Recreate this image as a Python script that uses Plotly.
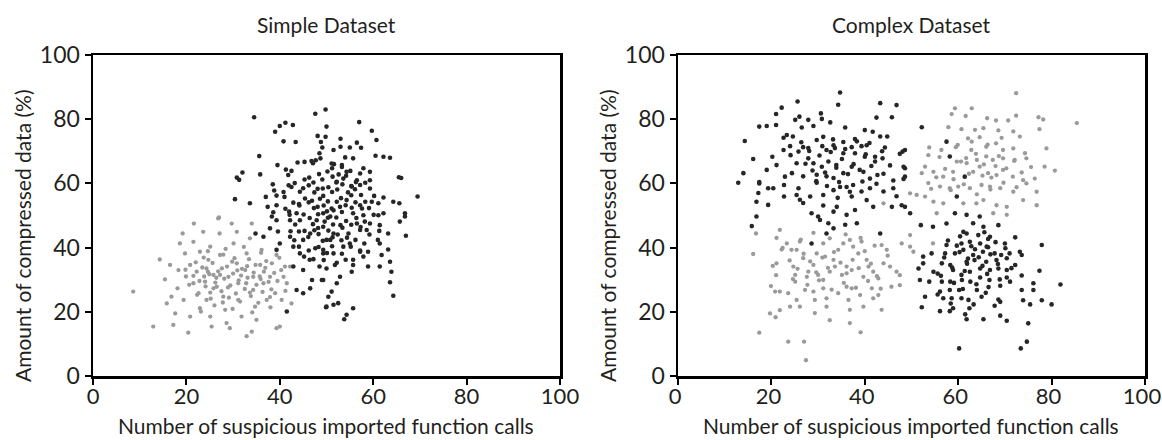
import plotly.graph_objects as go

# ---------------- data ----------------
x_ticks = [0, 20, 40, 60, 80, 100]
y_ticks = [0, 20, 40, 60, 80, 100]
titles = ["Simple Dataset", "Complex Dataset"]
x_label = "Number of suspicious imported function calls"
y_label = "Amount of compressed data (%)"

# Simple dataset - light grey cluster
simple_grey = [
    (8.6, 26.3), (12.9, 15.4), (14.3, 36.3), (15.4, 30.1), (15.8, 22.6), (16.5, 34.6), (16.8, 24.7),
    (17.6, 19.5), (17.2, 15.9), (18.1, 27.3), (18.3, 33.0), (18.6, 41.3), (19.2, 44.4), (19.7, 38.2),
    (19.9, 31.0), (19.4, 23.7), (20.4, 13.5), (20.8, 18.5), (21.6, 47.5), (21.5, 41.8), (20.8, 34.6),
    (21.5, 28.9), (22.2, 32.5), (22.9, 38.7), (22.6, 25.8), (22.9, 21.1), (23.6, 44.9), (24.0, 29.4),
    (24.7, 36.2), (25.1, 40.3), (24.3, 23.7), (25.1, 18.5), (25.4, 15.4), (25.8, 31.5), (26.5, 27.8),
    (26.8, 49.1), (27.1, 44.4), (27.2, 37.7), (27.6, 33.5), (27.9, 24.7), (28.3, 20.6), (28.6, 16.5),
    (29.3, 14.9), (29.0, 30.9), (29.7, 47.5), (30.1, 41.3), (30.8, 44.9), (30.8, 35.1), (31.1, 28.9),
    (31.1, 23.7), (31.8, 18.5), (32.9, 12.4), (32.6, 33.0), (32.9, 38.2), (34.0, 47.5), (33.6, 42.9),
    (34.3, 30.9), (34.3, 26.8), (34.7, 21.6), (34.0, 13.8), (35.0, 17.5), (35.8, 34.6), (36.1, 39.3),
    (36.5, 28.9), (37.2, 23.7), (37.9, 30.9), (38.3, 35.1), (39.0, 25.8), (39.3, 14.9), (40.0, 15.4),
    (40.4, 23.7), (40.8, 30.9), (41.5, 28.9), (42.2, 34.1), (42.5, 22.6), (41.1, 34.1), (39.3, 37.7),
    (24.3, 33.5), (24.6, 32.5), (27.0, 49.4),
    (21.5, 31.2), (22.8, 29.6), (23.4, 33.8), (24.1, 27.9), (24.9, 31.7), (25.6, 35.2), (26.2, 29.1),
    (26.8, 32.6), (27.5, 26.4), (28.1, 30.3), (28.7, 34.1), (29.4, 28.2), (30.0, 31.9), (30.6, 25.7),
    (31.2, 29.8), (31.9, 33.4), (32.5, 27.1), (33.1, 30.6), (33.8, 24.9), (34.4, 32.2), (35.0, 28.4),
    (35.7, 31.0), (36.3, 26.2), (36.9, 33.7), (37.6, 29.3), (38.2, 27.0), (38.8, 32.1), (22.3, 25.3),
    (23.7, 36.9), (25.2, 24.1), (27.9, 37.8), (29.8, 35.6), (31.5, 23.2), (33.4, 36.4), (35.4, 22.8),
    (37.1, 35.8), (39.5, 29.6), (40.3, 33.0), (41.2, 26.5), (20.6, 28.4), (19.8, 33.1), (24.6, 38.9),
    (28.4, 39.6), (32.3, 40.2), (36.0, 38.4), (26.0, 22.0), (29.9, 20.9), (34.1, 19.8), (38.0, 21.4),
    (23.1, 20.1), (30.9, 32.9), (27.2, 31.5), (32.8, 28.9), (25.8, 27.3), (35.9, 30.2), (29.1, 24.4),
    (34.8, 34.6), (22.0, 35.4), (37.9, 24.6), (39.9, 36.8), (26.4, 30.6), (28.9, 27.6), (31.7, 31.3),
    (33.6, 26.0), (30.3, 36.7), (27.8, 22.9), (23.8, 31.0), (36.6, 32.5), (25.1, 26.0), (33.0, 34.2),
]

# Simple dataset - dark cluster
simple_dark = [
    (34.5, 80.6), (41.2, 78.9), (40.0, 77.9), (42.8, 78.2), (39.0, 76.1), (40.8, 73.1), (43.4, 72.9),
    (47.6, 81.7), (49.8, 83.0), (50.0, 77.7), (48.1, 74.8), (49.8, 74.5), (48.8, 72.9), (49.1, 71.2),
    (35.6, 68.5), (48.5, 69.4), (48.7, 67.8), (39.5, 65.7), (43.8, 66.5), (45.3, 66.7), (46.8, 67.0),
    (47.7, 67.2), (32.0, 63.4), (30.8, 61.8), (31.3, 61.1), (35.8, 62.8), (41.3, 64.3), (42.5, 63.9),
    (41.8, 62.6), (38.5, 59.7), (41.9, 59.4), (42.5, 58.9), (38.8, 57.8), (40.8, 57.3), (45.0, 58.5),
    (46.2, 59.4), (30.4, 55.1), (33.6, 53.8), (37.0, 55.8), (39.3, 56.2), (41.0, 55.8), (42.9, 54.0),
    (44.1, 53.6), (45.4, 55.3), (46.9, 54.6), (37.4, 52.7), (39.3, 53.2), (38.6, 51.0), (38.3, 49.7),
    (42.0, 51.2), (43.6, 50.7), (48.1, 52.7), (49.3, 50.7),
    (57.0, 79.1), (59.7, 76.4), (60.7, 73.5), (53.0, 73.9), (56.5, 72.7), (57.4, 71.1), (55.0, 71.2),
    (53.0, 71.4), (51.5, 70.4), (60.5, 68.6), (62.2, 68.3), (63.6, 68.0), (55.7, 67.8), (54.0, 68.1),
    (51.6, 66.0), (53.3, 65.7), (51.2, 64.7), (54.3, 63.6), (57.9, 64.7), (59.3, 63.6), (65.5, 61.9),
    (66.0, 61.7), (59.3, 61.0), (56.5, 61.0), (53.6, 61.5), (52.2, 60.5), (55.4, 59.0), (57.2, 59.5),
    (59.3, 58.4), (69.5, 55.9), (62.2, 55.6), (59.7, 54.3), (61.1, 53.8), (64.3, 54.3), (65.6, 53.8),
    (57.2, 53.2), (54.3, 54.8), (52.9, 52.7), (55.7, 50.7), (57.9, 50.1), (61.1, 50.1), (62.2, 50.7),
    (66.8, 50.7), (66.8, 49.7), (51.5, 51.6), (50.8, 49.7),
    (65.7, 48.1), (67.0, 43.7), (63.2, 44.4), (61.4, 41.3), (61.0, 42.4), (63.2, 39.4), (61.8, 37.7),
    (63.6, 35.6), (63.9, 32.5), (63.6, 29.2), (64.3, 25.0), (61.4, 34.1), (58.9, 34.1), (57.9, 37.2),
    (58.9, 38.7), (57.2, 38.7), (55.7, 36.2), (55.7, 34.6), (55.4, 32.5), (52.9, 30.9), (52.2, 28.9),
    (51.1, 26.3), (50.4, 24.7), (49.9, 21.4), (51.5, 22.2), (52.5, 22.7), (55.7, 21.1), (54.3, 19.1),
    (53.8, 17.7), (49.3, 29.9), (50.0, 33.5), (51.8, 34.6), (53.6, 40.3), (55.0, 41.3), (57.2, 45.5),
    (58.6, 45.5), (51.5, 44.4), (53.0, 47.0), (54.7, 44.4), (56.5, 47.5), (59.3, 47.5), (61.4, 47.0),
    (50.0, 42.4), (49.3, 39.3), (51.5, 38.2),
    (34.8, 44.4), (36.5, 43.4), (37.9, 46.0), (39.6, 45.0), (40.0, 41.3), (39.3, 39.3), (42.2, 43.4),
    (42.9, 40.3), (44.1, 45.0), (45.0, 42.4), (46.5, 44.4), (47.6, 39.8), (44.3, 38.2), (46.4, 36.2),
    (42.9, 34.1), (45.0, 33.0), (46.9, 29.9), (49.0, 29.9), (43.6, 26.8), (46.5, 27.3), (45.0, 25.8),
    (41.5, 20.1), (50.0, 21.6), (49.3, 38.2), (48.5, 34.1), (49.3, 46.5), (47.9, 48.5), (50.8, 42.4),
    (42.2, 48.5), (39.3, 48.5), (44.3, 48.5),
    (46.3, 61.8), (47.2, 60.3), (48.4, 62.9), (49.1, 61.2), (50.2, 63.7), (51.3, 62.1), (52.6, 62.8),
    (53.4, 59.7), (54.2, 62.4), (55.1, 63.9), (56.3, 60.4), (47.4, 57.2), (48.1, 58.3), (49.3, 56.1),
    (50.4, 58.8), (51.2, 57.3), (52.3, 58.1), (53.1, 55.4), (54.6, 57.2), (55.3, 56.3), (56.1, 58.2),
    (57.4, 56.4), (46.2, 54.1), (47.3, 52.3), (48.6, 55.2), (49.4, 53.1), (50.3, 54.4), (51.1, 52.2),
    (52.2, 54.3), (53.3, 51.1), (54.1, 53.2), (55.4, 52.4), (56.2, 54.1), (57.6, 52.2), (58.3, 54.3),
    (46.4, 49.2), (47.1, 47.3), (48.2, 50.4), (49.6, 48.1), (50.3, 49.3), (51.4, 47.2), (52.1, 49.4),
    (53.4, 46.2), (54.2, 48.3), (55.3, 47.1), (56.4, 49.2), (57.3, 46.4), (58.2, 48.1), (45.3, 45.2),
    (46.1, 43.3), (47.4, 45.4), (48.3, 44.2), (49.2, 42.1), (50.4, 45.3), (51.3, 43.2), (52.4, 44.1),
    (53.2, 42.3), (54.4, 43.1), (56.2, 42.4), (44.1, 40.3), (46.2, 39.1), (48.3, 40.2), (50.1, 38.3),
    (51.2, 40.4), (53.3, 38.1), (55.2, 40.3), (49.4, 36.1), (52.2, 35.3), (47.2, 36.4), (54.1, 36.2),
    (45.1, 50.3), (44.2, 53.1), (43.3, 47.2), (42.1, 50.2), (41.2, 52.1), (44.3, 57.4), (43.2, 60.1),
    (45.3, 61.2), (59.1, 52.3), (60.2, 56.1), (58.3, 60.2), (57.2, 63.1), (55.3, 59.2), (50.1, 51.3),
    (48.2, 46.1), (52.1, 60.3), (49.2, 58.4), (53.3, 65.1), (51.1, 66.2), (47.1, 66.3), (60.1, 50.2),
    (59.2, 44.1), (61.3, 45.2), (58.1, 41.3), (57.2, 39.1), (45.2, 37.2), (43.1, 42.3), (42.3, 45.1),
]

# Complex dataset - dark cluster, upper left
complex_dark_a = [
    (34.7, 88.3), (34.3, 84.5), (25.6, 85.5), (22.2, 83.6), (21.0, 81.6), (21.0, 78.2), (19.0, 77.9),
    (17.4, 77.7), (25.1, 79.8), (26.0, 80.8), (27.9, 79.8), (30.6, 81.8), (30.8, 80.1), (32.6, 79.0),
    (29.0, 77.9), (26.5, 77.4), (35.8, 77.4), (43.3, 85.0), (46.8, 84.4), (42.5, 80.5), (45.8, 80.6),
    (40.0, 76.6), (41.7, 76.1), (43.3, 74.6), (44.8, 74.6), (37.9, 73.8), (22.6, 74.2), (23.3, 75.1),
    (24.6, 74.6), (14.3, 73.2), (16.1, 67.6), (14.0, 63.2), (12.9, 60.2), (17.4, 60.4), (19.0, 64.2),
    (21.1, 65.7), (22.6, 70.4), (24.0, 71.6), (25.8, 69.9), (26.8, 71.3), (27.9, 71.0), (29.7, 73.5),
    (31.1, 74.5), (33.3, 71.9), (35.4, 72.9), (33.6, 71.0), (31.8, 70.4), (35.4, 69.4), (37.2, 71.3),
    (39.3, 71.6), (40.4, 71.9), (37.9, 69.4), (40.0, 68.3), (42.2, 68.3), (43.8, 67.8), (44.3, 71.2),
    (47.5, 69.2), (48.1, 69.9), (48.6, 64.7), (27.9, 67.8), (29.0, 66.3), (30.8, 65.2), (32.2, 66.8),
    (33.9, 65.7), (25.4, 66.3), (24.4, 63.2), (26.8, 62.2), (29.7, 62.7), (31.8, 62.2), (33.3, 61.7),
    (35.4, 63.2), (37.2, 65.2), (39.7, 63.6), (41.1, 61.5), (42.2, 66.8), (44.0, 63.0), (46.1, 60.9),
    (48.3, 61.4), (17.4, 60.0), (19.3, 58.5), (20.4, 58.5), (22.7, 59.5), (25.8, 58.5), (17.2, 57.0),
    (22.7, 55.9), (25.4, 56.4), (26.8, 53.9), (26.1, 54.9), (28.3, 55.9), (29.7, 60.2), (31.1, 56.4),
    (33.3, 57.9), (34.7, 58.9), (36.1, 58.9), (37.5, 59.5), (37.2, 55.9), (39.3, 57.5), (41.1, 58.5),
    (42.5, 59.9), (44.0, 57.5), (46.1, 58.5), (46.8, 56.0), (16.8, 54.3), (19.3, 53.3), (16.8, 49.7),
    (28.6, 50.7), (30.0, 49.7), (33.3, 51.2), (34.0, 52.7), (36.1, 50.2), (37.9, 51.7), (40.4, 54.8),
    (41.8, 52.7), (45.8, 52.7), (47.9, 53.2), (15.8, 46.7), (30.4, 48.6), (32.2, 47.6), (33.3, 46.0),
    (31.8, 44.4), (35.8, 47.1), (38.3, 47.6), (43.3, 44.4), (28.6, 41.3), (52.2, 77.5), (57.5, 73.0),
    (58.2, 68.4), (48.6, 70.4), (48.3, 65.2), (48.6, 62.1), (61.4, 62.1), (48.6, 52.7), (49.7, 50.7),
    (27.3, 66.1), (28.8, 64.0), (30.3, 68.7), (31.5, 63.4), (32.7, 69.8), (33.9, 64.9), (35.1, 67.6),
    (36.4, 62.9), (37.6, 66.0), (38.9, 64.2), (40.2, 69.1), (41.4, 65.4), (42.7, 62.6), (29.6, 60.7),
    (31.9, 59.2), (34.5, 60.4), (36.8, 57.4), (39.5, 60.6), (26.4, 72.8), (28.1, 70.1), (30.9, 71.6),
    (33.2, 73.7), (35.8, 70.7), (38.3, 73.1), (41.0, 72.6), (24.1, 68.8), (22.9, 62.1), (20.2, 68.3),
    (43.7, 70.0), (45.4, 65.6), (34.2, 55.5), (31.1, 53.1),
]

# Complex dataset - grey cluster, lower left
complex_grey_a = [
    (16.7, 44.4), (16.1, 38.0), (21.8, 45.5), (21.1, 43.0), (23.3, 41.3), (22.2, 39.4), (24.3, 39.3),
    (25.4, 39.3), (26.1, 41.9), (20.3, 34.3), (21.1, 35.1), (19.9, 28.0), (20.8, 26.3), (21.8, 26.3),
    (19.7, 19.5), (20.9, 18.3), (21.8, 20.5), (17.4, 13.5), (23.6, 10.7), (27.0, 10.7), (27.4, 4.9),
    (23.6, 25.8), (25.1, 29.4), (25.1, 31.5), (24.7, 34.1), (24.0, 21.6), (25.4, 23.7), (26.1, 21.6),
    (27.2, 26.8), (27.6, 30.9), (27.9, 32.5), (26.8, 36.7), (29.0, 34.6), (29.7, 38.2), (31.1, 41.3),
    (31.5, 37.2), (30.0, 31.5), (31.1, 29.9), (29.3, 23.7), (29.0, 26.3), (31.1, 27.3), (31.8, 24.2),
    (31.8, 21.6), (29.3, 19.6), (32.5, 17.4), (32.5, 32.5), (33.3, 36.2), (33.6, 34.1), (34.3, 39.3),
    (35.4, 41.3), (36.8, 42.4), (37.5, 40.3), (38.6, 38.2), (39.3, 41.9), (35.1, 31.5), (36.1, 34.1),
    (37.2, 33.0), (34.3, 25.8), (36.1, 27.8), (37.2, 27.3), (36.5, 23.7), (36.8, 20.6), (36.8, 16.5),
    (39.1, 13.6), (39.0, 25.2), (39.7, 21.6), (39.7, 30.9), (40.8, 34.1), (40.4, 36.2), (41.8, 32.5),
    (42.9, 30.4), (41.5, 27.3), (41.8, 24.2), (42.9, 25.2), (43.6, 20.6), (44.0, 35.1), (44.7, 39.3),
    (43.6, 40.8), (45.4, 34.1), (45.7, 27.8), (47.5, 28.3), (46.8, 32.5), (47.9, 41.3), (47.5, 31.4),
    (49.7, 43.9), (49.7, 40.3), (50.4, 38.7), (54.6, 41.3), (44.0, 53.8),
    (23.9, 36.0), (25.6, 33.4), (26.9, 38.1), (28.3, 35.7), (29.6, 32.3), (30.9, 36.9), (32.1, 33.7),
    (33.4, 38.6), (34.8, 35.3), (36.1, 32.0), (37.4, 36.2), (38.7, 33.6), (40.0, 38.9), (41.3, 35.0),
    (42.6, 31.1), (24.6, 30.2), (27.7, 28.4), (30.2, 29.8), (32.9, 26.9), (35.5, 29.0), (38.1, 27.5),
    (40.7, 29.6), (43.4, 27.2), (26.3, 42.5), (29.0, 44.6), (32.5, 42.9), (35.9, 44.1), (39.1, 43.0),
    (42.1, 40.6), (44.9, 37.5), (22.4, 39.9), (21.0, 31.4),
]

# Complex dataset - grey cluster, upper right
complex_grey_b = [
    (72.4, 88.1), (59.3, 83.4), (62.9, 83.4), (58.6, 81.6), (61.6, 81.0), (66.2, 80.3), (68.1, 79.6),
    (70.7, 79.6), (72.4, 81.1), (77.2, 80.6), (78.2, 79.9), (85.4, 78.8), (77.4, 76.9), (57.9, 77.5),
    (60.7, 76.9), (63.6, 76.7), (65.4, 77.2), (68.6, 76.5), (71.8, 76.2), (73.2, 74.6), (64.6, 74.4),
    (62.1, 74.0), (53.8, 71.2), (56.4, 70.4), (59.9, 72.0), (62.8, 70.4), (66.0, 71.4), (68.1, 72.5),
    (69.6, 70.4), (71.8, 70.9), (74.3, 69.4), (78.9, 70.9), (53.6, 68.8), (59.7, 66.8), (61.8, 66.3),
    (64.0, 67.3), (66.0, 68.4), (67.4, 67.3), (69.6, 67.8), (72.1, 67.3), (74.6, 67.8), (78.5, 65.2),
    (80.7, 64.0), (52.9, 65.2), (52.2, 63.2), (54.7, 63.6), (56.8, 62.1), (58.9, 63.6), (63.2, 63.6),
    (64.6, 65.2), (66.4, 63.2), (68.2, 62.6), (69.6, 64.2), (71.7, 62.1), (73.9, 61.0), (76.4, 61.5),
    (53.6, 60.1), (56.1, 59.0), (58.2, 58.5), (60.0, 59.0), (62.5, 58.5), (65.0, 59.5), (66.8, 59.0),
    (69.0, 58.5), (71.8, 57.4), (74.6, 60.0), (76.8, 57.4), (49.7, 56.9), (51.1, 56.4), (52.9, 55.9),
    (54.7, 54.3), (56.8, 53.8), (61.1, 53.8), (63.9, 53.8), (65.4, 54.8), (68.2, 53.2), (70.4, 52.7),
    (73.9, 54.8), (76.8, 53.2), (55.4, 50.7), (67.5, 50.7), (70.4, 50.2),
    (57.2, 64.5), (59.0, 61.3), (60.6, 66.8), (62.3, 63.0), (63.8, 69.2), (65.5, 65.9), (67.1, 61.8),
    (68.7, 68.5), (70.3, 64.7), (72.0, 67.0), (73.6, 63.4), (58.4, 57.9), (61.2, 59.7), (64.0, 56.6),
    (66.9, 58.1), (69.7, 60.2), (72.5, 58.8), (56.0, 68.2), (59.5, 71.3), (62.9, 73.0), (66.3, 72.1),
    (69.3, 74.2), (55.3, 61.9), (54.2, 58.3), (75.6, 65.1), (65.2, 62.4), (61.7, 67.9), (68.0, 65.4),
]

# Complex dataset - dark cluster, lower right
complex_dark_b = [
    (59.7, 55.9), (59.3, 50.7), (61.8, 50.2), (64.6, 49.7),
    (72.2, 43.2), (77.9, 40.8), (77.4, 32.8), (81.9, 28.5), (80.0, 22.3), (77.9, 23.6), (75.4, 22.3),
    (75.0, 16.4), (74.7, 10.7), (73.4, 8.6), (60.2, 8.6), (61.8, 17.7), (65.4, 17.7), (69.0, 18.8),
    (70.4, 17.2), (61.5, 19.2), (56.1, 20.2), (58.2, 20.2), (58.9, 21.1), (62.4, 21.1), (52.2, 21.4),
    (52.9, 24.7), (56.8, 24.2), (58.6, 24.2), (60.7, 24.2), (62.2, 23.7), (65.0, 24.7), (69.0, 23.1),
    (68.6, 23.8), (73.9, 23.6), (76.1, 26.8), (73.6, 26.8), (76.1, 28.9), (73.6, 31.3), (56.1, 26.3),
    (58.2, 26.8), (60.2, 26.8), (64.0, 26.8), (66.5, 27.7), (69.0, 28.1), (51.8, 29.9), (53.8, 29.4),
    (56.5, 29.4), (58.3, 29.4), (60.8, 29.9), (62.6, 29.4), (64.7, 30.7), (66.7, 29.9), (70.4, 30.7),
    (71.1, 29.4), (51.5, 33.5), (54.7, 32.5), (55.6, 31.9), (58.9, 33.0), (60.7, 31.5), (62.5, 32.5),
    (64.7, 33.5), (66.8, 33.0), (68.6, 33.5), (70.4, 33.0), (72.2, 34.6), (52.5, 35.1), (56.5, 35.1),
    (58.3, 34.6), (61.8, 35.6), (63.5, 36.1), (66.0, 35.6), (68.2, 36.1), (70.4, 36.7), (73.6, 37.7),
    (52.5, 37.2), (54.3, 38.2), (57.2, 38.2), (59.3, 38.2), (61.1, 39.3), (63.2, 37.7), (65.3, 38.7),
    (67.8, 38.2), (69.2, 37.7), (71.0, 38.2), (73.2, 38.7), (57.5, 40.8), (60.7, 41.3), (62.5, 41.8),
    (64.7, 41.3), (66.1, 40.3), (70.0, 41.3), (61.8, 44.4), (64.3, 43.9), (66.4, 42.7), (66.8, 43.4),
    (61.1, 44.9), (65.4, 46.5), (68.6, 47.0), (52.0, 47.0), (54.6, 46.5), (57.5, 47.5), (63.2, 47.6),
    (57.0, 36.9), (58.7, 33.8), (60.3, 38.6), (61.9, 35.0), (63.6, 39.5), (65.2, 34.3), (66.9, 37.9),
    (68.5, 34.9), (70.1, 39.8), (56.3, 31.2), (59.1, 29.0), (61.4, 32.7), (63.9, 28.6), (66.2, 31.8),
    (68.9, 30.1), (71.4, 33.6), (57.8, 42.2), (60.4, 43.5), (62.8, 40.4), (65.6, 44.8), (68.0, 41.7),
    (55.6, 25.4), (58.4, 22.6), (61.0, 27.1), (63.3, 22.3), (65.9, 25.9), (67.8, 21.9), (62.1, 36.6),
    (64.4, 37.0), (66.4, 40.1), (59.7, 40.6),
]

# ---------------- styling ----------------
FONT = "Lato, 'Open Sans', sans-serif"
TXT = "#231f20"
DARK = "#262626"
GREY = "#9a9a9a"

fig = go.Figure()

def add(points, color, size, xa, ya):
    xs = [p[0] for p in points]
    ys = [p[1] for p in points]
    fig.add_trace(go.Scatter(x=xs, y=ys, mode="markers", xaxis=xa, yaxis=ya,
                             marker=dict(color=color, size=size, line=dict(width=0)),
                             showlegend=False, hoverinfo="skip"))

add(simple_grey, GREY, 4.3, "x", "y")
add(simple_dark, DARK, 4.6, "x", "y")
add(complex_grey_a, GREY, 4.3, "x2", "y2")
add(complex_grey_b, GREY, 4.3, "x2", "y2")
add(complex_dark_a, DARK, 4.6, "x2", "y2")
add(complex_dark_b, DARK, 4.6, "x2", "y2")

# full-window figure; the page body margin is removed by a post script
W, H = 1162, 440

def px_x(p):
    return p / W

def px_y(p):
    return (H - p) / H

dom_y = [px_y(376), px_y(55)]
dom_x1 = [px_x(93), px_x(560)]
dom_x2 = [px_x(678), px_x(1145)]

axis_common = dict(range=[0, 100], showgrid=False, zeroline=False, showline=True,
                   linecolor="black", linewidth=2.5, mirror=True,
                   ticks="outside", ticklen=6, tickwidth=2, tickcolor="black",
                   ticklabeloverflow="allow",
                   automargin=False, fixedrange=True)
x_font = dict(family=FONT, size=22, color=TXT)
y_font = dict(family=FONT, size=23, color=TXT)

fig.update_layout(
    width=W, height=H,
    margin=dict(l=0, r=0, t=0, b=0),
    paper_bgcolor="white", plot_bgcolor="white",
    hovermode=False,
    xaxis=dict(domain=dom_x1, anchor="y", tickvals=x_ticks, ticklabelstandoff=-7,
               tickfont=x_font, **axis_common),
    yaxis=dict(domain=dom_y, anchor="x", tickvals=y_ticks, tickfont=y_font, **axis_common),
    xaxis2=dict(domain=dom_x2, anchor="y2", tickvals=x_ticks, ticklabelstandoff=-7,
                ticklabelshift=-3, tickfont=x_font, **axis_common),
    yaxis2=dict(domain=dom_y, anchor="x2", tickvals=y_ticks, tickfont=y_font, **axis_common),
)

ann = []
for i, (dx, ylab_x) in enumerate([(dom_x1, 22), (dom_x2, 607)]):
    cx = (dx[0] + dx[1]) / 2
    common = dict(xref="paper", yref="paper", xanchor="center", yanchor="middle",
                  showarrow=False, font=dict(family=FONT, size=21, color=TXT))
    ann.append(dict(text=titles[i], x=cx, y=px_y(25), **common))
    ann.append(dict(text=x_label, x=cx, y=px_y(425), **common))
    ann.append(dict(text=y_label, x=px_x(ylab_x), y=px_y(236), textangle=-90, **common))
fig.update_layout(annotations=ann)

fig.write_html(
    "out.html",
    config={"displayModeBar": False, "staticPlot": True},
    post_script="document.body.style.margin='0';document.body.style.overflow='hidden';",
)
